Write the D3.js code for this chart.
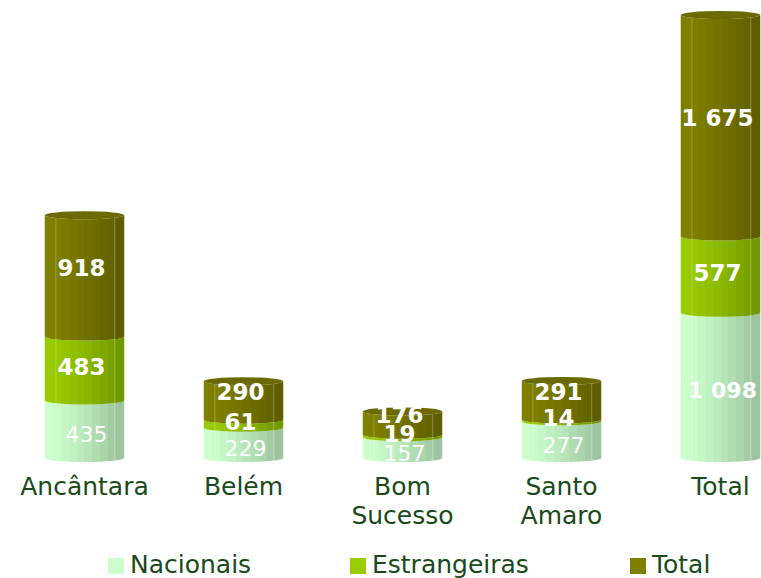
<!DOCTYPE html>
<html>
<head>
<meta charset="utf-8">
<script src="https://cdn.jsdelivr.net/npm/d3@7"></script>
<style>
  body { margin: 0; background: #fff; overflow: hidden; }
  svg { font-family: "DejaVu Sans", Verdana, sans-serif; display: block; }
</style>
</head>
<body>
<div id="chart"></div>
<script>
// stacked cylinder chart

var categories = [["Ancântara"], ["Belém"], ["Bom", "Sucesso"], ["Santo", "Amaro"], ["Total"]];
var nacionais = [435, 229, 157, 277, 1098];
var estrangeiras = [483, 61, 19, 14, 577];
var totals = [918, 290, 176, 291, 1675];
var seriesNames = ["Nacionais", "Estrangeiras", "Total"];

var svgWidth = 761;
var svgHeight = 578;

var svg = d3.select("#chart")
  .append("svg")
  .attr("width", svgWidth)
  .attr("height", svgHeight);

var locale = d3.formatLocale({decimal: ",", thousands: "\u00a0", grouping: [3], currency: ["", ""]});
var fmt = locale.format(",d");

var colors = [
  {base: "#ccffcc", light: "#ccffcc", dark: "#9cc49f"},
  {base: "#99cc00", light: "#99cc00", dark: "#729a00"},
  {base: "#808000", light: "#808000", dark: "#5e5e00"}
];

// gradients, faceted
var defs = svg.append("defs");
colors.forEach(function(c, i) {
  var g = defs.append("linearGradient")
    .attr("id", "grad" + i)
    .attr("x1", "0%").attr("x2", "100%").attr("y1", "0%").attr("y2", "0%");
  var n = 10;
  var interp = d3.interpolateRgb(c.light, c.dark);
  for (var k = 0; k < n; k++) {
    var col = interp(Math.pow(k / (n - 1), 1.3));
    g.append("stop").attr("offset", (k / n * 100) + "%").attr("stop-color", col);
    g.append("stop").attr("offset", ((k + 1) / n * 100) + "%").attr("stop-color", col);
  }
});

var keys = ["nac", "est", "tot"];
var data = categories.map(function(c, i) {
  return {cat: c, nac: nacionais[i], est: estrangeiras[i], tot: totals[i]};
});
var stacked = d3.stack().keys(keys)(data);

var xScale = d3.scaleBand()
  .domain(d3.range(categories.length))
  .range([5, 800])
  .paddingInner(0.5)
  .paddingOuter(0.25);

var yScale = d3.scaleLinear()
  .domain([0, d3.max(data, function(d) { return d.nac + d.est + d.tot; })])
  .range([458, 15]);

var ry = 4;

function segPath(x0, x1, yTop, yBot) {
  var rx = (x1 - x0) / 2;
  return "M" + x0 + "," + yTop +
    "A" + rx + "," + ry + " 0 0 0 " + x1 + "," + yTop +
    "L" + x1 + "," + yBot +
    "A" + rx + "," + ry + " 0 0 1 " + x0 + "," + yBot + "Z";
}

var bars = svg.append("g");

stacked.forEach(function(layer, li) {
  bars.append("g")
    .selectAll("path")
    .data(layer)
    .enter()
    .append("path")
    .attr("d", function(d, i) {
      var x0 = xScale(i), x1 = x0 + xScale.bandwidth();
      return segPath(x0, x1, yScale(d[1]), yScale(d[0]));
    })
    .attr("fill", "url(#grad" + li + ")");
});

// facet lines
var facetG = bars.append("g");
data.forEach(function(d, i) {
  var x0 = xScale(i), w = xScale.bandwidth();
  var top = yScale(d.nac + d.est + d.tot);
  [0.14, 0.88].forEach(function(f) {
    facetG.append("line")
      .attr("x1", x0 + w * f).attr("x2", x0 + w * f)
      .attr("y1", top).attr("y2", yScale(0) + 2)
      .attr("stroke", "#ffffff")
      .attr("stroke-opacity", 0.25)
      .attr("stroke-width", 1);
  });
});

// top caps
bars.append("g")
  .selectAll("ellipse")
  .data(data)
  .enter()
  .append("ellipse")
  .attr("cx", function(d, i) { return xScale(i) + xScale.bandwidth() / 2; })
  .attr("cy", function(d) { return yScale(d.nac + d.est + d.tot); })
  .attr("rx", xScale.bandwidth() / 2)
  .attr("ry", ry)
  .attr("fill", "#6a6a00");

// value labels
var yShift = [5, -2, -8];
var xShift = [2, -3, -3];
var labelG = svg.append("g").attr("fill", "#ffffff").attr("text-anchor", "middle");
stacked.forEach(function(layer, li) {
  labelG.append("g")
    .selectAll("text")
    .data(layer)
    .enter()
    .append("text")
    .attr("x", function(d, i) { return xScale(i) + xScale.bandwidth() / 2 + xShift[li]; })
    .attr("y", function(d) { return (yScale(d[0]) + yScale(d[1])) / 2 + 8 + yShift[li]; })
    .attr("font-size", li === 0 ? "22px" : "23px")
    .attr("font-weight", function(d, i) { return (li === 0 && i < categories.length - 1) ? "normal" : "bold"; })
    .text(function(d) { return fmt(d[1] - d[0]); });
});

// category labels
var catG = svg.append("g").attr("fill", "#1a4a1a").attr("font-size", "25px").attr("text-anchor", "middle");
categories.forEach(function(lines, i) {
  var cx = xScale(i) + xScale.bandwidth() / 2;
  var t = catG.append("text")
    .attr("x", cx)
    .attr("y", 495);
  lines.forEach(function(l, k) {
    t.append("tspan")
      .attr("x", cx)
      .attr("dy", k === 0 ? 0 : 29)
      .text(l);
  });
});

// legend
var legendX = [108, 350, 630];
var legend = svg.append("g");
seriesNames.forEach(function(name, i) {
  legend.append("rect")
    .attr("x", legendX[i]).attr("y", 558)
    .attr("width", 16).attr("height", 16)
    .attr("fill", colors[i].base);
  legend.append("text")
    .attr("x", legendX[i] + 22).attr("y", 573)
    .attr("font-size", "25px")
    .attr("fill", "#1a4a1a")
    .text(name);
});
</script>
</body>
</html>
